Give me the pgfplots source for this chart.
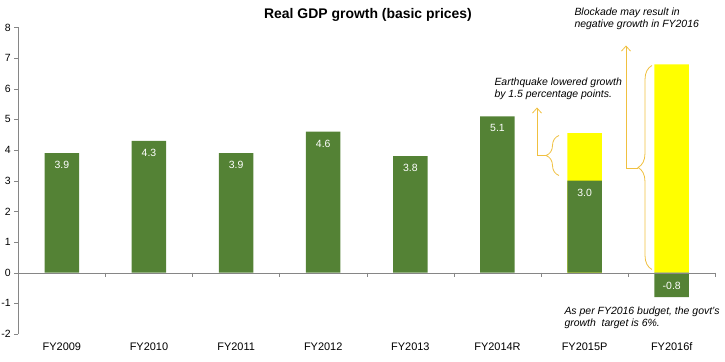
\documentclass[border=0pt]{standalone}
\usepackage{pgfplots}
\pgfplotsset{compat=1.18}
\usepackage{fontspec}
\setmainfont{Liberation Sans}
\usetikzlibrary{decorations.pathreplacing,arrows.meta}
\definecolor{bargreen}{RGB}{84,130,53}
\definecolor{baryellow}{RGB}{255,255,0}
\definecolor{gold}{RGB}{240,192,64}
\definecolor{axgrey}{RGB}{134,134,134}
\begin{document}
\begin{tikzpicture}
\useasboundingbox (-18.3bp,-27.5bp) rectangle (706.7bp,334bp);
\begin{axis}[
 name=ax, at={(0,0)}, anchor=south west,
 scale only axis, width=697bp, height=306.5bp,
 xmin=-0.5, xmax=7.5, ymin=-2, ymax=8,
 axis y line=left, axis x line=bottom,
 x axis line style={draw=none}, y axis line style={axgrey, -},
 ytick={-2,-1,0,1,2,3,4,5,6,7,8}, xtick={0,1,2,3,4,5,6,7},
 xticklabels={FY2009,FY2010,FY2011,FY2012,FY2013,FY2014R,FY2015P,FY2016f},
 x tick style={draw=none},
 y tick style={axgrey},
 tick align=outside, major tick length=4bp,
 yticklabel style={font=\fontsize{10.5}{12}\selectfont},
 xticklabel style={font=\fontsize{11}{13}\selectfont, yshift=-1bp},
 /pgf/number format/assume math mode=true,
 ybar, bar width=34.5bp, bar shift=0pt,
 clip=false,
]
\addplot[fill=baryellow, draw=none] coordinates {(6,4.55) (7,6.8)};
\addplot[fill=bargreen, draw=none,
  visualization depends on={y \as \rawy},
  nodes near coords,
  nodes near coords style={anchor=center, white, font=\fontsize{10.5}{12}\selectfont,
    /pgf/number format/fixed, /pgf/number format/fixed zerofill, /pgf/number format/precision=1,
    yshift={(\rawy<0 ? 11 : -12)*1bp}},
] coordinates {(0,3.9) (1,4.3) (2,3.9) (3,4.6) (4,3.8) (5,5.1) (6,3.0) (7,-0.8)};
\draw[axgrey] (axis cs:-0.5,0) -- (axis cs:7.5,0);
\pgfplotsinvokeforeach{0.5,1.5,2.5,3.5,4.5,5.5,6.5,7.5}{
  \draw[axgrey] (axis cs:#1,0) -- ++(0pt,-4bp);
}
\end{axis}
\begin{scope}[shift={(-18.3bp,331.5bp)}, x=1bp, y=-1bp]
\node[font=\bfseries\fontsize{14}{16}\selectfont] at (368,12) {Real GDP growth (basic prices)};
\node[font=\itshape\fontsize{10.5}{12}\selectfont, align=left, anchor=west] at (491,86.5)
  {Earthquake lowered growth\\by 1.5 percentage points.};
\node[font=\itshape\fontsize{10.5}{12}\selectfont, align=left, anchor=west] at (571,16)
  {Blockade may result in\\negative growth in FY2016};
\node[font=\itshape\fontsize{10.5}{12}\selectfont, align=left, anchor=west] at (561,315.5)
  {As per FY2016 budget, the govt's\\growth\ \ target is 6\%.};
\draw[gold, line width=0.8bp, decorate, decoration={brace, amplitude=13bp}] (559,173) -- (559,133);
\draw[gold, line width=0.8bp, decorate, decoration={brace, amplitude=14bp}] (652,267) -- (652,63);
\draw[gold, line width=0.8bp, -{Straight Barb[length=5bp,width=9bp]}] (546,153) -- (537,153) -- (537,105);
\draw[gold, line width=0.8bp, -{Straight Barb[length=5bp,width=9bp]}] (638,166) -- (626,166) -- (626,43);
\end{scope}
\end{tikzpicture}
\end{document}
